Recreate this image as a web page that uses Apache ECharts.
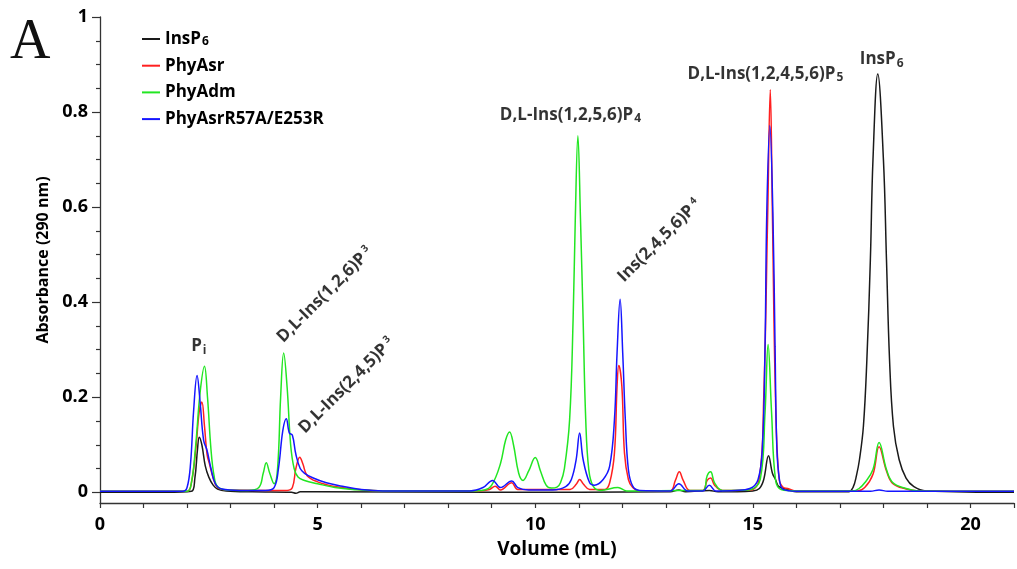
<!DOCTYPE html>
<html>
<head>
<meta charset="utf-8">
<script src="https://cdn.jsdelivr.net/npm/echarts@6/dist/echarts.min.js"></script>
<style>
  html, body { margin: 0; padding: 0; background: #fff; }
  #chart { width: 1017px; height: 569px; }
</style>
</head>
<body>
<div id="chart"></div>
<script>
// chromatogram traces, [volume mL, absorbance]
const insP6 = [
  [0, 0], [1.5, 0], [2.1, 0.002], [2.18, 0.03], [2.24, 0.09], [2.28, 0.116], [2.34, 0.1],
  [2.42, 0.055], [2.5, 0.032], [2.6, 0.015], [2.7, 0.007], [2.9, 0.003], [3.5, 0.001],
  [4.4, 0], [4.5, -0.002], [4.6, 0.001], [5, 0.001], [9, 0], [13.1, 0.001], [13.3, 0.005],
  [13.45, 0.001], [14.0, 0.004], [14.2, 0.001], [15.0, 0.003], [15.15, 0.008], [15.25, 0.027],
  [15.36, 0.077], [15.45, 0.04], [15.52, 0.027], [15.6, 0.012], [15.83, 0.005], [16, 0.001],
  [17.2, 0.001], [17.3, 0.01], [17.38, 0.035], [17.45, 0.069], [17.54, 0.139], [17.62, 0.28],
  [17.7, 0.49], [17.76, 0.7], [17.87, 0.88], [18.0, 0.7], [18.07, 0.49], [18.14, 0.28],
  [18.23, 0.139], [18.36, 0.069], [18.52, 0.03], [18.7, 0.012], [18.98, 0.003], [21, 0]
];
const phyAsr = [
  [0, 0.002], [2.0, 0.002], [2.1, 0.02], [2.2, 0.09], [2.28, 0.17], [2.34, 0.19], [2.4, 0.14],
  [2.46, 0.08], [2.52, 0.058], [2.6, 0.03], [2.7, 0.01], [2.9, 0.005], [4.3, 0.004], [4.42, 0.01],
  [4.5, 0.05], [4.59, 0.074], [4.66, 0.06], [4.76, 0.035], [5.0, 0.022], [5.4, 0.012], [5.8, 0.007],
  [6.5, 0.003], [8.7, 0.003], [8.95, 0.006], [9.08, 0.013], [9.2, 0.005], [9.46, 0.02], [9.6, 0.006],
  [10.8, 0.006], [10.95, 0.018], [11.02, 0.027], [11.1, 0.018], [11.25, 0.006], [11.6, 0.006],
  [11.71, 0.02], [11.82, 0.083], [11.88, 0.223], [11.92, 0.267], [11.99, 0.223], [12.05, 0.083],
  [12.14, 0.027], [12.24, 0.01], [12.4, 0.003], [13.1, 0.003], [13.22, 0.025], [13.31, 0.043],
  [13.4, 0.025], [13.55, 0.004], [13.85, 0.004], [13.95, 0.025], [14.03, 0.03], [14.12, 0.015],
  [14.3, 0.004], [14.95, 0.005], [15.15, 0.03], [15.25, 0.2], [15.34, 0.58], [15.4, 0.847],
  [15.45, 0.58], [15.52, 0.2], [15.6, 0.03], [15.7, 0.01], [15.8, 0.008], [16, 0.003], [17.4, 0.003],
  [17.57, 0.01], [17.76, 0.038], [17.9, 0.096], [18.07, 0.045], [18.22, 0.018], [18.52, 0.007],
  [18.8, 0.003], [21, 0.002]
];
const phyAdm = [
  [0, 0.002], [2.0, 0.002], [2.1, 0.02], [2.2, 0.1], [2.3, 0.21], [2.4, 0.265], [2.47, 0.2],
  [2.55, 0.09], [2.62, 0.035], [2.7, 0.012], [2.9, 0.005], [3.4, 0.004], [3.65, 0.01], [3.75, 0.04],
  [3.82, 0.062], [3.9, 0.04], [4.0, 0.018], [4.08, 0.05], [4.15, 0.2], [4.22, 0.293], [4.3, 0.22],
  [4.38, 0.1], [4.46, 0.05], [4.55, 0.032], [4.7, 0.025], [5.0, 0.018], [5.4, 0.01], [5.8, 0.006],
  [6.5, 0.003], [8.5, 0.003], [8.83, 0.005], [9.0, 0.015], [9.2, 0.06], [9.32, 0.11], [9.41, 0.127],
  [9.5, 0.1], [9.62, 0.04], [9.72, 0.025], [9.85, 0.045], [10.0, 0.073], [10.12, 0.045], [10.25, 0.015],
  [10.37, 0.009], [10.5, 0.011], [10.58, 0.02], [10.67, 0.05], [10.79, 0.153], [10.87, 0.364],
  [10.92, 0.574], [10.98, 0.75], [11.04, 0.574], [11.1, 0.364], [11.16, 0.153], [11.23, 0.048],
  [11.33, 0.013], [11.5, 0.004], [11.9, 0.01], [12.1, 0.003], [13.3, 0.004], [13.85, 0.004],
  [13.95, 0.035], [14.03, 0.043], [14.12, 0.02], [14.3, 0.004], [14.9, 0.005], [15.17, 0.027],
  [15.28, 0.168], [15.35, 0.311], [15.43, 0.168], [15.52, 0.027], [15.65, 0.006], [16, 0.003],
  [17.3, 0.003], [17.44, 0.008], [17.57, 0.02], [17.76, 0.048], [17.9, 0.105], [18.07, 0.048],
  [18.22, 0.02], [18.52, 0.008], [18.8, 0.003], [21, 0.002]
];
const phyAsrMut = [
  [0, 0.002], [1.9, 0.002], [2.0, 0.01], [2.08, 0.06], [2.15, 0.17], [2.23, 0.246], [2.3, 0.19],
  [2.38, 0.11], [2.46, 0.088], [2.55, 0.05], [2.65, 0.018], [2.8, 0.007], [3.2, 0.004], [3.8, 0.004],
  [4.0, 0.01], [4.1, 0.05], [4.2, 0.13], [4.28, 0.155], [4.35, 0.125], [4.42, 0.12], [4.5, 0.08],
  [4.6, 0.05], [4.7, 0.04], [4.9, 0.03], [5.2, 0.02], [5.6, 0.012], [6.0, 0.006], [6.5, 0.003],
  [8.5, 0.003], [8.8, 0.01], [9.02, 0.025], [9.2, 0.01], [9.46, 0.024], [9.6, 0.01], [9.85, 0.005],
  [10.4, 0.005], [10.7, 0.012], [10.83, 0.027], [10.94, 0.069], [11.02, 0.125], [11.1, 0.069],
  [11.25, 0.02], [11.36, 0.015], [11.56, 0.027], [11.71, 0.055], [11.82, 0.153], [11.88, 0.293],
  [11.95, 0.406], [12.01, 0.293], [12.07, 0.153], [12.14, 0.048], [12.24, 0.013], [12.4, 0.004],
  [13.1, 0.003], [13.3, 0.018], [13.5, 0.003], [13.85, 0.003], [14.0, 0.015], [14.15, 0.003],
  [14.6, 0.004], [14.93, 0.008], [15.12, 0.027], [15.22, 0.097], [15.28, 0.307], [15.32, 0.588],
  [15.39, 0.771], [15.46, 0.588], [15.51, 0.307], [15.55, 0.097], [15.61, 0.027], [15.7, 0.006],
  [16, 0.002], [17.7, 0.002], [17.9, 0.005], [18.1, 0.002], [21, 0.002]
];

const seriesNames = ['InsP6', 'PhyAsr', 'PhyAdm', 'PhyAsrR57A/E253R'];
const seriesColors = ['#1a1a1a', '#ff2020', '#22e622', '#1515ff'];
const seriesData = [insP6, phyAsr, phyAdm, phyAsrMut];

// peak annotations
const annotText = ['P{s|i}', 'D,L-Ins(1,2,6)P{t|3}', 'D,L-Ins(2,4,5)P{t|3}', 'D,L-Ins(1,2,5,6)P{s|4}',
  'Ins(2,4,5,6)P{t|4}', 'D,L-Ins(1,2,4,5,6)P{s|5}', 'InsP{s|6}'];
const annotX = [2.27, 4.13, 4.63, 10.81, 11.96, 15.29, 17.96];
const annotY = [0.307, 0.321, 0.13, 0.794, 0.448, 0.88, 0.911];
const annotRotate = [0, 45, 45, 0, 45, 0, 0];

const yLabelValues = [0, 0.2, 0.4, 0.6, 0.8, 1];
const yMinorValues = [0.05, 0.1, 0.15, 0.25, 0.3, 0.35, 0.45, 0.5, 0.55, 0.65, 0.7, 0.75, 0.85, 0.9, 0.95];

const font = '"Open Sans", "Noto Sans", sans-serif';
const ink = '#000';
const axisColor = '#333';

const chart = echarts.init(document.getElementById('chart'));

const series = seriesNames.map((name, i) => ({
  name: name,
  type: 'line',
  data: seriesData[i],
  symbol: 'none',
  smooth: 0.4,
  lineStyle: { color: seriesColors[i], width: 1.5 },
  itemStyle: { color: seriesColors[i] },
  z: 2 + i
}));

series.push({
  name: 'labels',
  type: 'scatter',
  symbolSize: 0,
  silent: true,
  z: 10,
  data: annotX.map((x, i) => ({
    value: [x, annotY[i]],
    label: {
      show: true,
      position: 'inside',
      formatter: annotText[i],
      rotate: annotRotate[i],
      align: annotRotate[i] ? 'left' : 'center',
      verticalAlign: 'middle'
    }
  })),
  label: {
    fontFamily: font,
    fontWeight: 'bold',
    fontSize: 17,
    color: ink,
    rich: {
      s: { fontFamily: font, fontWeight: 'bold', fontSize: 12, color: ink, verticalAlign: 'bottom', padding: [8, 0, 0, 1] },
      t: { fontFamily: font, fontWeight: 'bold', fontSize: 10, color: ink, verticalAlign: 'top', padding: [0, 0, 8, 3] }
    }
  }
});

const option = {
  backgroundColor: '#fff',
  animation: false,
  grid: { left: 100, right: 3, top: 17, bottom: 66 },
  legend: {
    data: seriesNames,
    orient: 'vertical',
    left: 137,
    top: 25,
    icon: 'rect',
    itemWidth: 18,
    itemHeight: 2,
    itemGap: 8.7,
    formatter: name => name === 'InsP6' ? 'InsP{s|6}' : name,
    textStyle: {
      fontFamily: font,
      fontWeight: 'bold',
      fontSize: 17,
      lineHeight: 18,
      color: ink,
      rich: {
        s: { fontFamily: font, fontWeight: 'bold', fontSize: 12, color: ink, verticalAlign: 'bottom', padding: [8, 0, 0, 1] }
      }
    }
  },
  graphic: [{
    type: 'text',
    left: 10,
    top: 15,
    style: { text: 'A', font: '56px "Liberation Serif", "DejaVu Serif", serif', fill: '#111' }
  }],
  xAxis: {
    type: 'value',
    min: 0,
    max: 21,
    interval: 1,
    name: 'Volume (mL)',
    nameLocation: 'middle',
    nameGap: 37,
    nameTextStyle: { fontFamily: font, fontWeight: 'bold', fontSize: 19, color: ink },
    axisLine: { onZero: false, lineStyle: { color: axisColor, width: 1.3 } },
    axisTick: { length: 5, lineStyle: { color: axisColor, width: 1.2 } },
    axisLabel: {
      margin: 13,
      fontFamily: font,
      fontWeight: 'bold',
      fontSize: 18,
      color: ink,
      showMaxLabel: true,
      formatter: v => (v % 5 === 0 ? String(v) : '')
    },
    splitLine: { show: false }
  },
  yAxis: [{
    type: 'value',
    min: -0.0225,
    max: 1,
    name: 'Absorbance (290 nm)',
    nameLocation: 'middle',
    nameGap: 48,
    nameTextStyle: { fontFamily: font, fontWeight: 'bold', fontSize: 16, color: ink },
    axisLine: { show: true, onZero: false, lineStyle: { color: axisColor, width: 1.3 } },
    axisTick: { show: true, length: 8, customValues: yLabelValues, lineStyle: { color: axisColor, width: 1.2 } },
    axisLabel: { margin: 12, fontFamily: font, fontWeight: 'bold', fontSize: 18, color: ink, customValues: yLabelValues },
    splitLine: { show: false }
  }, {
    type: 'value',
    position: 'left',
    min: -0.0225,
    max: 1,
    axisLine: { show: false },
    axisTick: { show: true, length: 4, customValues: yMinorValues, lineStyle: { color: axisColor, width: 1.2 } },
    axisLabel: { show: false },
    splitLine: { show: false }
  }],
  series: series
};

chart.setOption(option);
</script>
</body>
</html>
